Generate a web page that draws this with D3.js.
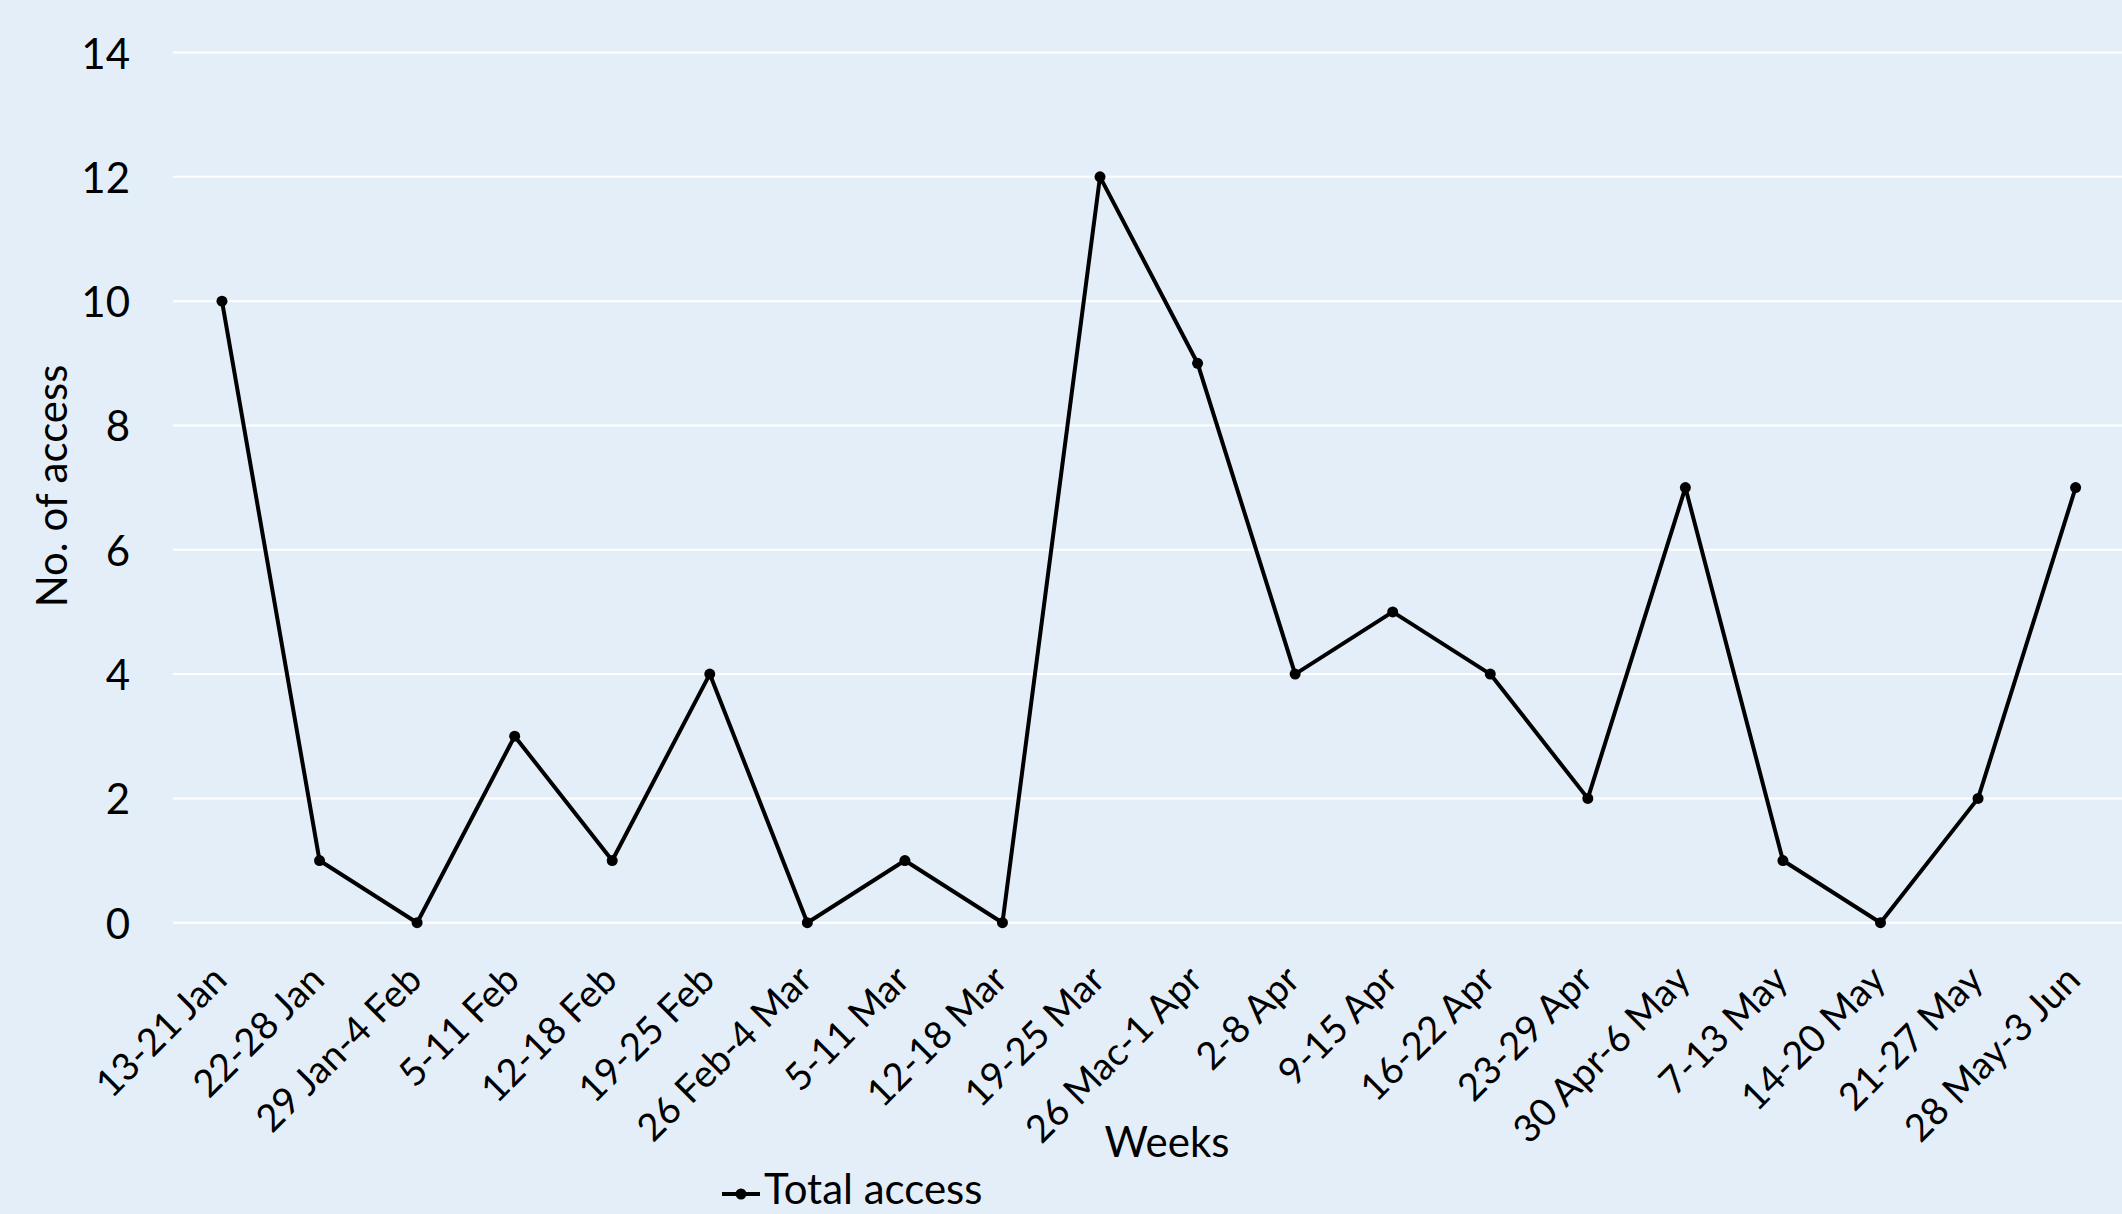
<!DOCTYPE html>
<html>
<head>
<meta charset="utf-8">
<script src="https://cdn.jsdelivr.net/npm/d3@7"></script>
<style>
  html, body { margin: 0; padding: 0; background: #e4eef8; overflow: hidden; }
  svg { display: block; font-family: Lato, "Noto Sans", sans-serif; }
</style>
</head>
<body>
<svg id="chart" width="2122" height="1214"></svg>
<script>
// weekly data
const weeks = ["13-21 Jan", "22-28 Jan", "29 Jan-4 Feb", "5-11 Feb", "12-18 Feb", "19-25 Feb",
    "26 Feb-4 Mar", "5-11 Mar", "12-18 Mar", "19-25 Mar", "26 Mac-1 Apr", "2-8 Apr",
    "9-15 Apr", "16-22 Apr", "23-29 Apr", "30 Apr-6 May", "7-13 May", "14-20 May",
    "21-27 May", "28 May-3 Jun"];
const totalAccess = [10, 1, 0, 3, 1, 4, 0, 1, 0, 12, 9, 4, 5, 4, 2, 7, 1, 0, 2, 7];
const yTicks = [0, 2, 4, 6, 8, 10, 12, 14];
const seriesName = "Total access";

var svg = d3.select("#chart"),
    width = +svg.attr("width"),
    height = +svg.attr("height");

svg.append("rect")
    .attr("width", width)
    .attr("height", height)
    .attr("fill", "#e4eef8");

var x = d3.scaleBand()
    .domain(weeks)
    .range([173.2, 2124.4])
    .padding(0);

var y = d3.scaleLinear()
    .domain([0, 14])
    .range([922.7, 52.5]);

var cx = d => x(d) + x.bandwidth() / 2;

// gridlines
svg.append("g")
    .selectAll("line")
    .data(yTicks)
    .enter()
    .append("line")
    .attr("x1", 173)
    .attr("x2", width)
    .attr("y1", d => y(d))
    .attr("y2", d => y(d))
    .style("stroke", "#ffffff")
    .style("stroke-width", 2);

// y tick labels
svg.append("g")
    .selectAll("text")
    .data(yTicks)
    .enter()
    .append("text")
    .attr("x", 130)
    .attr("y", d => y(d))
    .attr("text-anchor", "end")
    .attr("dominant-baseline", "central")
    .style("font-size", "42px")
    .style("fill", "#000")
    .text(d => d);

// x tick labels, rotated
svg.append("g")
    .selectAll("text")
    .data(weeks)
    .enter()
    .append("text")
    .attr("transform", d => "translate(" + (cx(d) + 7) + ",982) rotate(-45)")
    .attr("text-anchor", "end")
    .style("font-size", "38px")
    .style("fill", "#000")
    .text(d => d);

// axis titles
svg.append("text")
    .attr("transform", "translate(67,486) rotate(-90)")
    .attr("text-anchor", "middle")
    .style("font-size", "42px")
    .text("No. of access");

svg.append("text")
    .attr("x", 1167)
    .attr("y", 1157)
    .attr("text-anchor", "middle")
    .style("font-size", "42px")
    .text("Weeks");

// line
var line = d3.line()
    .x((d, i) => cx(weeks[i]))
    .y(d => y(d));

svg.append("path")
    .datum(totalAccess)
    .attr("fill", "none")
    .attr("stroke", "#000")
    .attr("stroke-width", 4)
    .attr("stroke-linejoin", "round")
    .attr("d", line);

svg.append("g")
    .selectAll("circle")
    .data(totalAccess)
    .enter()
    .append("circle")
    .attr("cx", (d, i) => cx(weeks[i]))
    .attr("cy", d => y(d))
    .attr("r", 5.5)
    .attr("fill", "#000");

// legend
var lx = 722, ly = 1194;
svg.append("line")
    .attr("x1", lx).attr("x2", lx + 38)
    .attr("y1", ly).attr("y2", ly)
    .style("stroke", "#000")
    .style("stroke-width", 4);
svg.append("circle")
    .attr("cx", lx + 19).attr("cy", ly)
    .attr("r", 5.5)
    .attr("fill", "#000");
svg.append("text")
    .attr("x", lx + 42)
    .attr("y", 1204)
    .style("font-size", "42px")
    .text(seriesName);
</script>
</body>
</html>
